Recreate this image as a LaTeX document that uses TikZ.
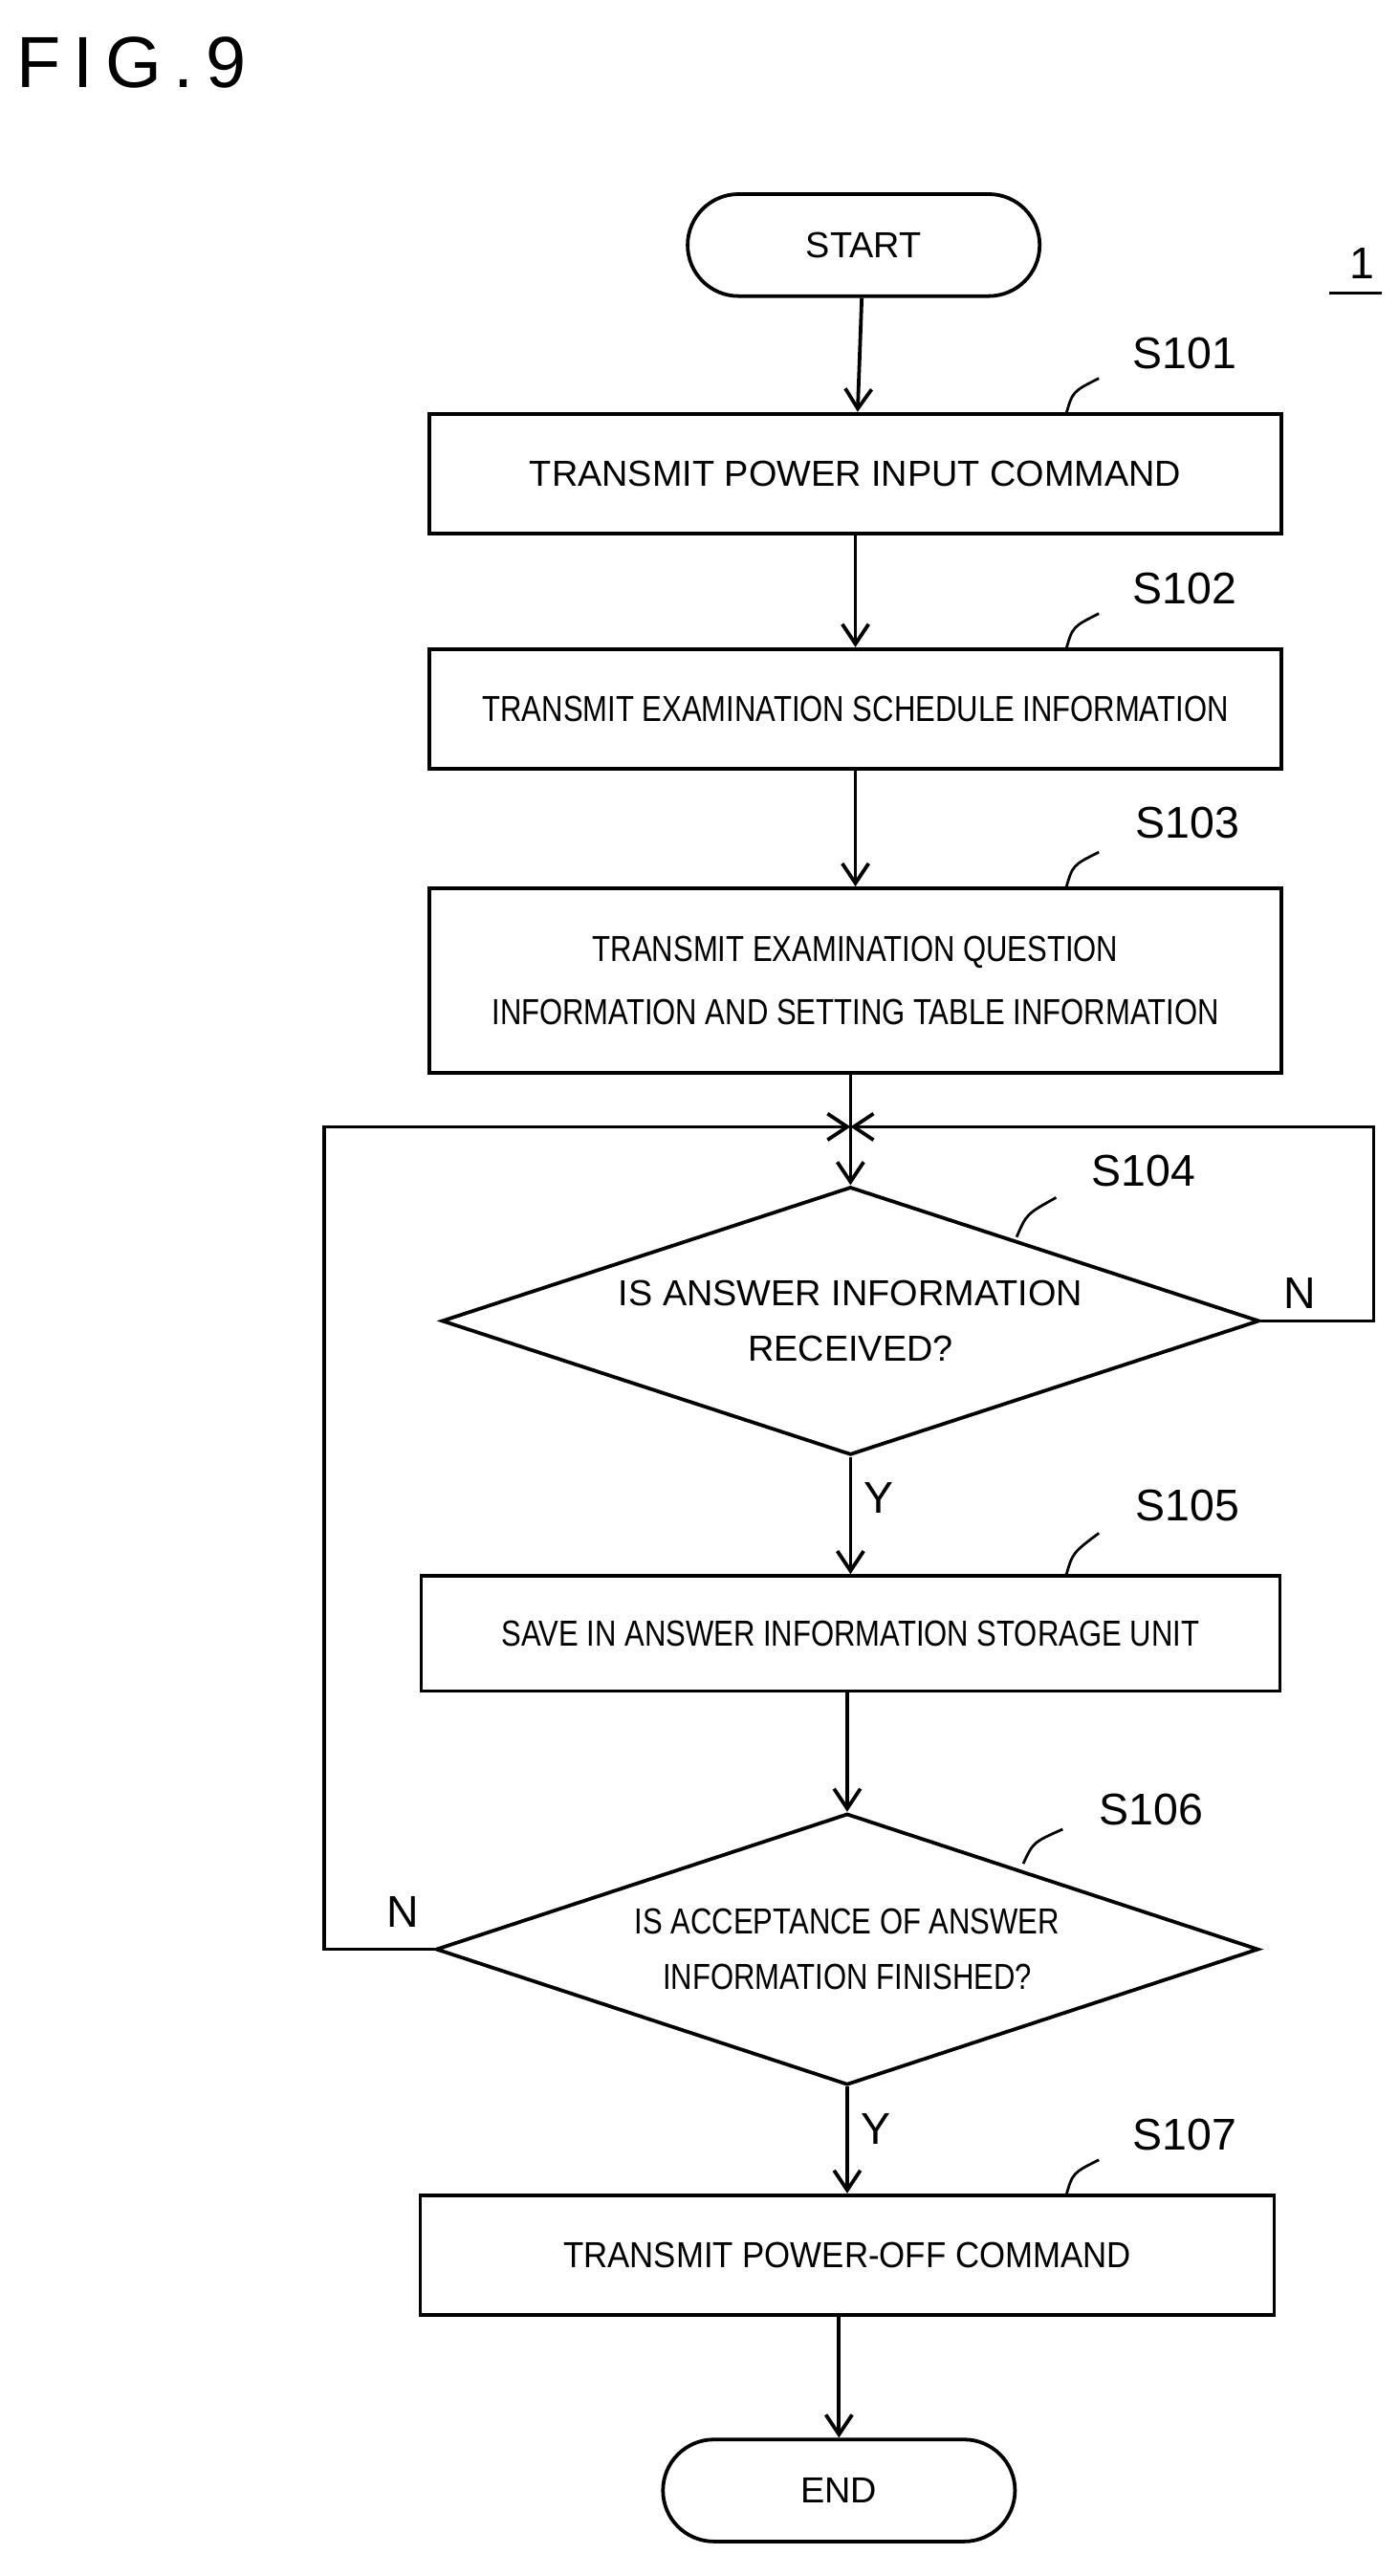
\documentclass[tikz,border=0pt]{standalone}
\usepackage{fontspec}
\setmainfont{Liberation Sans}
\usetikzlibrary{shapes.geometric,arrows.meta}
\begin{document}
\begin{tikzpicture}[x=1pt,y=-1pt,line width=2.2pt,
  box/.style={draw,minimum width=518pt,inner sep=0pt,align=center,font=\fontsize{22}{40}\selectfont},
  term/.style={draw,rounded corners=31pt,minimum width=214pt,minimum height=62pt,font=\fontsize{22}{26}\selectfont},
  dia/.style={draw,diamond,aspect=3.05,minimum width=497pt,minimum height=163pt,inner sep=0pt,align=center,font=\fontsize{22}{40}\selectfont},
  lab/.style={font=\fontsize{27}{30}\selectfont},
  arr/.style={-{Straight Barb[length=12pt,width=16pt,line width=2.2pt]}},
  lead/.style={line width=1.6pt}]
\useasboundingbox (0,0) rectangle (850,1566);
\node[font=\fontsize{44}{48}\selectfont,anchor=west] (fig) at (6,38) {F\,I\,G\,.\,9};
\node[term] (start) at (525,149) {START};
\node[font=\fontsize{27}{30}\selectfont] (one) at (828,160) {1};
\draw[line width=1.6pt] (808,178) -- (840,178);
\node[box,minimum height=73pt] (s1) at (520,288) {TRANSMIT POWER INPUT COMMAND};
\node[box,minimum height=73pt] (s2) at (520,431) {\scalebox{0.82}[1]{TRANSMIT EXAMINATION SCHEDULE INFORMATION}};
\node[box,minimum height=112pt] (s3) at (520,596) {\scalebox{0.82}[1]{TRANSMIT EXAMINATION QUESTION}\\[-2pt]\scalebox{0.82}[1]{INFORMATION AND SETTING TABLE INFORMATION}};
\coordinate (m) at (517,685);
\node[dia] (d4) at (517,803) {IS ANSWER INFORMATION\\[-6pt]RECEIVED?};
\node[box,minimum width=522pt,minimum height=70pt] (s5) at (517,993) {\scalebox{0.82}[1]{SAVE IN ANSWER INFORMATION STORAGE UNIT}};
\node[dia,minimum width=500pt,minimum height=165pt] (d6) at (515,1185) {\scalebox{0.82}[1]{IS ACCEPTANCE OF ANSWER}\\[-6pt]\scalebox{0.82}[1]{INFORMATION FINISHED?}};
\node[box,minimum width=519pt,minimum height=73pt] (s7) at (515,1371) {\scalebox{0.92}[1]{TRANSMIT POWER-OFF COMMAND}};
\node[term] (end) at (510,1514) {END};
% step labels
\node[lab] (l1) at (720,215) {S101};
\node[lab] (l2) at (720,358) {S102};
\node[lab] (l3) at (722,500) {S103};
\node[lab] (l4) at (695,712) {S104};
\node[lab] (l5) at (722,915) {S105};
\node[lab] (l6) at (700,1100) {S106};
\node[lab] (l7) at (720,1298) {S107};
\draw[lead] (648,252) .. controls (652,238) .. (668,230);
\draw[lead] (648,395) .. controls (652,381) .. (668,373);
\draw[lead] (648,540) .. controls (652,526) .. (668,518);
\draw[lead] (618,752) .. controls (624,738) .. (642,728);
\draw[lead] (648,958) .. controls (652,944) .. (668,932);
\draw[lead] (622,1133) .. controls (628,1120) .. (646,1112);
\draw[lead] (648,1335) .. controls (652,1321) .. (668,1313);
% connectors
\draw[arr] (start) -- (s1);
\draw[arr] (s1) -- (s2);
\draw[arr] (s2) -- (s3);
\draw (s3.south -| m) -- (m);
\draw[arr] (m) -- (d4.north);
\draw[arr] (d4.south) -- node[pos=0.35,right=4pt,lab]{Y} (s5.north -| d4.south);
\draw[arr] (s5.south -| d6.north) -- (d6.north);
\draw[arr] (d6.south) -- node[pos=0.4,right=4pt,lab]{Y} (s7.north -| d6.south);
\draw[arr] (s7.south -| end.north) -- (end.north);
\draw[arr] (d4.east) -- (835,803) |- (m);
\draw[arr] (d6.west) -- (197,1185) |- (m);
\node[lab] (n4) at (790,786) {N};
\node[lab] (n6) at (245,1162) {N};
\end{tikzpicture}
\end{document}
